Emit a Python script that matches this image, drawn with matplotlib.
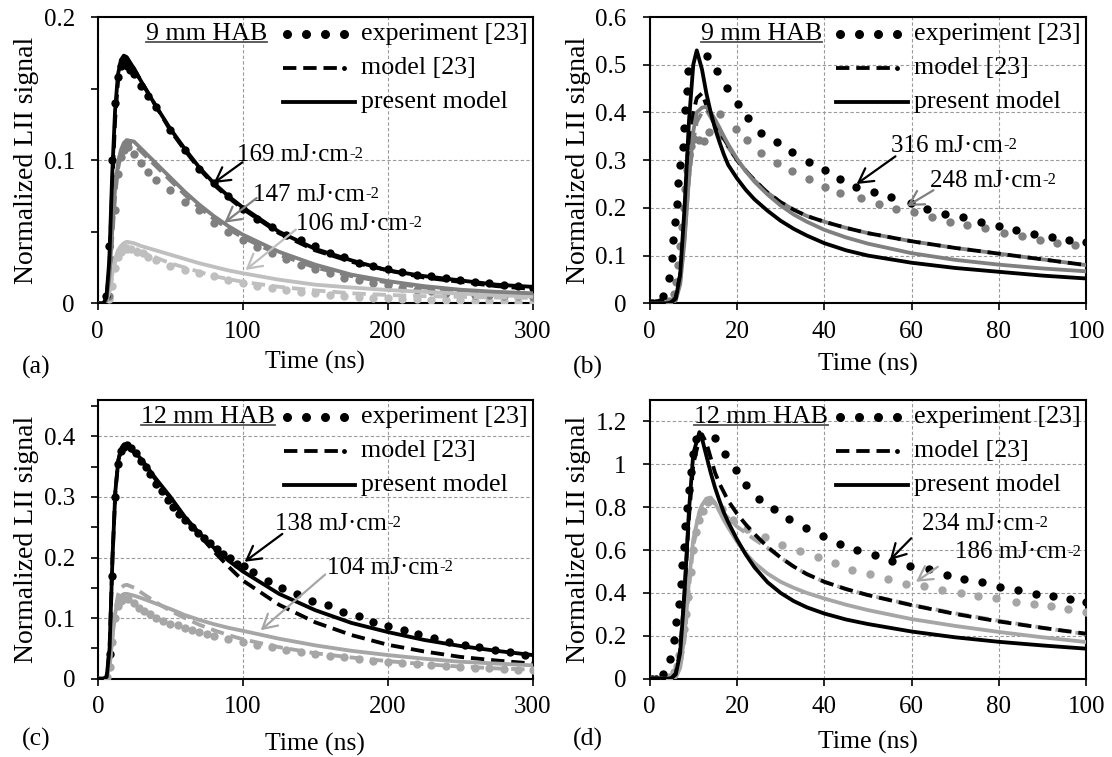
import matplotlib
matplotlib.use("Agg")
import matplotlib.pyplot as plt
from matplotlib.ticker import MultipleLocator, FuncFormatter

plt.rcParams['font.family'] = ['Liberation Serif', 'DejaVu Serif']

# ================= DATA =================
# ---- panel (a): 9 mm HAB, fluences 169 / 147 / 106 mJ/cm2 ----
a_t_line = [0, 4, 6, 8, 10, 12, 14, 16, 18, 20, 25, 30, 40, 50, 60, 70, 80, 90, 100,
            125, 150, 175, 200, 225, 250, 275, 300]
a169_present = [0, 0, 0.004, 0.03, 0.09, 0.135, 0.160, 0.170, 0.173, 0.172, 0.164, 0.155, 0.138,
                0.122, 0.108, 0.095, 0.084, 0.075, 0.067, 0.050, 0.038, 0.030, 0.023, 0.019,
                0.016, 0.013, 0.0115]
a169_model = [0, 0, 0.003, 0.025, 0.08, 0.128, 0.155, 0.166, 0.170, 0.170, 0.164, 0.155, 0.138,
              0.121, 0.107, 0.094, 0.083, 0.074, 0.066, 0.049, 0.037, 0.029, 0.023, 0.018,
              0.015, 0.012, 0.010]
a147_present = [0, 0, 0.002, 0.018, 0.05, 0.08, 0.098, 0.107, 0.112, 0.114, 0.113, 0.108, 0.098,
                0.088, 0.078, 0.069, 0.061, 0.054, 0.048, 0.036, 0.027, 0.020, 0.0155, 0.012,
                0.0095, 0.008, 0.007]
a147_model = [0, 0, 0.002, 0.015, 0.045, 0.075, 0.094, 0.104, 0.110, 0.112, 0.111, 0.106, 0.096,
              0.086, 0.076, 0.067, 0.059, 0.052, 0.046, 0.034, 0.025, 0.019, 0.0145, 0.011,
              0.009, 0.0075, 0.0065]
a106_present = [0, 0, 0.001, 0.008, 0.02, 0.031, 0.037, 0.040, 0.042, 0.043, 0.042, 0.040, 0.037,
                0.034, 0.031, 0.028, 0.0255, 0.023, 0.021, 0.0165, 0.013, 0.011, 0.0093, 0.008,
                0.0068, 0.0057, 0.0047]
a106_model = [0, 0, 0.001, 0.007, 0.018, 0.029, 0.035, 0.038, 0.040, 0.040, 0.039, 0.036, 0.032,
              0.028, 0.025, 0.022, 0.019, 0.017, 0.015, 0.0115, 0.009, 0.007, 0.0058, 0.005,
              0.0045, 0.004, 0.0038]
a169_exp_t = [6, 8, 10, 12, 14, 16, 18, 20, 22, 25, 30, 35, 40, 50, 60, 70, 80, 90, 100, 110,
              120, 130, 140, 150, 160, 170, 180, 190, 200, 210, 220, 230, 240, 250, 260, 270,
              280, 290, 300]
a169_exp = [0.005, 0.04, 0.10, 0.14, 0.158, 0.166, 0.168, 0.166, 0.163, 0.160, 0.152, 0.145,
            0.137, 0.121, 0.107, 0.094, 0.084, 0.075, 0.066, 0.059, 0.053, 0.048, 0.044, 0.040,
            0.035, 0.032, 0.028, 0.026, 0.024, 0.022, 0.020, 0.019, 0.018, 0.016, 0.015, 0.014,
            0.013, 0.012, 0.011]
a147_exp_t = [8, 10, 12, 14, 16, 18, 21, 25, 30, 35, 40, 50, 60, 70, 80, 90, 100, 110, 120, 130,
              140, 150, 160, 170, 180, 190, 200, 210, 220, 230, 240, 250, 260, 270, 280, 290, 300]
a147_exp = [0.005, 0.03, 0.065, 0.09, 0.102, 0.107, 0.109, 0.104, 0.098, 0.092, 0.086, 0.079,
            0.071, 0.065, 0.056, 0.050, 0.044, 0.039, 0.035, 0.031, 0.027, 0.024, 0.021, 0.018,
            0.016, 0.014, 0.0125, 0.011, 0.0095, 0.0085, 0.0075, 0.007, 0.006, 0.0055, 0.005,
            0.0048, 0.0045]
a106_exp_t = [8, 10, 12, 14, 16, 18, 20, 23, 27, 31, 35, 40, 50, 60, 70, 80, 90, 100, 110, 120,
              130, 140, 150, 160, 170, 180, 190, 200, 210, 220, 230, 240, 250, 260, 270, 280,
              290, 300]
a106_exp = [0.003, 0.012, 0.025, 0.032, 0.036, 0.038, 0.038, 0.038, 0.036, 0.035, 0.032, 0.030,
            0.026, 0.023, 0.021, 0.019, 0.016, 0.014, 0.012, 0.011, 0.0093, 0.008, 0.007, 0.006,
            0.0052, 0.0047, 0.004, 0.0035, 0.003, 0.0028, 0.0025, 0.0023, 0.002, 0.0018, 0.0015,
            0.0013, 0.0012, 0.001]

# ---- panel (b): 9 mm HAB, fluences 316 / 248 mJ/cm2 ----
b_t_line = [0, 2, 4, 5, 6, 7, 8, 9, 10, 10.8, 12, 13, 14, 15, 16, 17, 18, 20, 22, 24, 27, 30,
            33, 36, 40, 45, 50, 60, 70, 80, 90, 100]
b316_present = [0, 0, 0, 0.002, 0.01, 0.06, 0.2, 0.38, 0.5, 0.53, 0.49, 0.44, 0.40, 0.366, 0.338,
                0.312, 0.29, 0.262, 0.238, 0.218, 0.194, 0.173, 0.156, 0.142, 0.126, 0.111,
                0.1, 0.085, 0.074, 0.066, 0.058, 0.052]
b316_model = [0, 0, 0, 0.002, 0.012, 0.06, 0.17, 0.30, 0.40, 0.43, 0.44, 0.415, 0.395, 0.375,
              0.36, 0.345, 0.33, 0.30, 0.278, 0.258, 0.232, 0.212, 0.196, 0.183, 0.171, 0.158,
              0.147, 0.13, 0.116, 0.104, 0.092, 0.08]
b248_present = [0, 0, 0, 0.001, 0.006, 0.04, 0.13, 0.26, 0.36, 0.40, 0.41, 0.412, 0.40, 0.385,
                0.368, 0.35, 0.333, 0.303, 0.277, 0.255, 0.228, 0.205, 0.186, 0.171, 0.154,
                0.138, 0.125, 0.105, 0.091, 0.081, 0.073, 0.067]
b248_model = [0, 0, 0, 0.001, 0.008, 0.045, 0.14, 0.26, 0.34, 0.38, 0.40, 0.405, 0.39, 0.372,
              0.355, 0.34, 0.327, 0.30, 0.278, 0.258, 0.232, 0.212, 0.196, 0.183, 0.171, 0.158,
              0.147, 0.13, 0.116, 0.104, 0.092, 0.08]
b316_exp_t = [0.5, 1.5, 2.3, 3.1, 4.5, 5.1, 5.4, 5.8, 6.2, 6.6, 7.0, 7.6, 7.8, 8.2, 8.5, 8.8,
              13.2, 15.4, 17.8, 20.2, 22.6, 25.4, 29.1, 32.7, 36.4, 40.1, 43.6, 47.3, 51.4, 55.3,
              59.8, 63.6, 67.7, 71.7, 75.8, 80.0, 84.0, 88.0, 92.1, 96.1, 100]
b316_exp = [0.0, 0.0, 0.003, 0.015, 0.052, 0.094, 0.133, 0.171, 0.208, 0.252, 0.290, 0.328, 0.367,
            0.405, 0.445, 0.486, 0.518, 0.486, 0.451, 0.418, 0.388, 0.357, 0.338, 0.317, 0.296,
            0.279, 0.260, 0.244, 0.234, 0.223, 0.211, 0.197, 0.187, 0.181, 0.171, 0.163, 0.153,
            0.146, 0.138, 0.133, 0.128]
b248_exp_t = [0.5, 1.5, 4.5, 5.5, 6.0, 6.5, 7.0, 7.4, 7.8, 8.2, 8.6, 9.0, 9.5, 10.2, 11.3, 12.5,
              13.6, 16.2, 19.7, 22.3, 25.6, 29.2, 32.6, 36.4, 40.1, 43.6, 48.4, 52.5, 56.5, 60.6,
              64.6, 68.7, 72.7, 76.8, 81.2, 85.3, 89.3, 93.4, 97.4]
b248_exp = [0.0, 0.0, 0.005, 0.02, 0.045, 0.08, 0.12, 0.16, 0.2, 0.24, 0.28, 0.31, 0.33, 0.345,
            0.342, 0.34, 0.36, 0.396, 0.366, 0.342, 0.316, 0.295, 0.278, 0.26, 0.244, 0.232, 0.22,
            0.208, 0.197, 0.191, 0.18, 0.171, 0.164, 0.157, 0.1465, 0.142, 0.1326, 0.127, 0.122]

# ---- panel (c): 12 mm HAB, fluences 138 / 104 mJ/cm2 ----
c_t_line = [0, 4, 6, 8, 10, 12, 14, 16, 18, 20, 25, 30, 40, 50, 60, 70, 80, 90, 100, 125, 150,
            175, 200, 225, 250, 275, 300]
c138_present = [0, 0, 0.003, 0.05, 0.2, 0.31, 0.36, 0.38, 0.387, 0.386, 0.375, 0.362, 0.33, 0.30,
                0.267, 0.24, 0.216, 0.195, 0.177, 0.14, 0.113, 0.092, 0.077, 0.064, 0.054, 0.046,
                0.039]
c138_model = [0, 0, 0.003, 0.05, 0.2, 0.31, 0.36, 0.38, 0.386, 0.384, 0.373, 0.36, 0.328, 0.298,
              0.265, 0.237, 0.21, 0.185, 0.162, 0.122, 0.093, 0.072, 0.056, 0.045, 0.036, 0.030,
              0.025]
c104_present = [0, 0, 0.002, 0.02, 0.07, 0.11, 0.13, 0.137, 0.14, 0.14, 0.137, 0.133, 0.124,
                0.115, 0.105, 0.097, 0.09, 0.084, 0.079, 0.066, 0.055, 0.046, 0.039, 0.033,
                0.028, 0.025, 0.022]
c104_model = [0, 0, 0.002, 0.02, 0.07, 0.115, 0.14, 0.15, 0.154, 0.155, 0.15, 0.142, 0.126, 0.112,
              0.1, 0.089, 0.08, 0.072, 0.065, 0.052, 0.042, 0.035, 0.029, 0.024, 0.02, 0.017,
              0.015]
c138_exp_t = [8, 10, 12, 14, 16, 18, 20, 23, 26, 30, 33, 36, 40, 44, 48, 52, 56, 60, 65, 69, 73,
              77, 82, 86, 91, 96, 101, 107, 117, 127, 137, 148, 159, 169, 180, 190, 200, 211,
              221, 232, 242, 253, 263, 274, 284, 295]
c138_exp = [0.04, 0.17, 0.30, 0.355, 0.375, 0.383, 0.385, 0.38, 0.372, 0.36, 0.35, 0.338, 0.322,
            0.31, 0.295, 0.283, 0.272, 0.262, 0.25, 0.24, 0.232, 0.224, 0.214, 0.206, 0.2, 0.19,
            0.186, 0.176, 0.162, 0.15, 0.14, 0.129, 0.121, 0.11, 0.103, 0.093, 0.087, 0.08,
            0.074, 0.067, 0.061, 0.056, 0.052, 0.047, 0.044, 0.039]
c104_exp_t = [6, 8, 10, 12, 14, 16, 18, 21, 25, 28, 32, 36, 40, 45, 50, 55, 60, 65, 70, 75, 80,
              90, 100, 110, 120, 130, 140, 150, 160, 170, 180, 190, 200, 210, 220, 230, 240, 250,
              260, 270, 280, 290, 300]
c104_exp = [0.003, 0.02, 0.06, 0.1, 0.12, 0.128, 0.131, 0.131, 0.125, 0.116, 0.112, 0.106, 0.1,
            0.095, 0.09, 0.088, 0.084, 0.08, 0.077, 0.074, 0.071, 0.066, 0.061, 0.056, 0.052,
            0.048, 0.044, 0.041, 0.038, 0.035, 0.032, 0.03, 0.028, 0.026, 0.024, 0.022, 0.021,
            0.019, 0.018, 0.017, 0.016, 0.015, 0.014]

# ---- panel (d): 12 mm HAB, fluences 234 / 186 mJ/cm2 ----
d_t_line = [0, 2, 4, 5, 6, 7, 8, 9, 10, 11.4, 12, 13, 14, 15, 16, 17, 18, 20, 22, 24, 27, 30,
            33, 36, 40, 45, 50, 60, 70, 80, 90, 100]
d234_present = [0, 0, 0, 0.002, 0.02, 0.12, 0.4, 0.78, 1.05, 1.15, 1.12, 1.04, 0.96, 0.89, 0.83,
                0.775, 0.73, 0.65, 0.58, 0.52, 0.45, 0.40, 0.362, 0.333, 0.304, 0.276, 0.255,
                0.22, 0.193, 0.172, 0.155, 0.14]
d234_model = [0, 0, 0, 0.002, 0.025, 0.13, 0.4, 0.75, 1.0, 1.12, 1.14, 1.10, 1.03, 0.96, 0.91,
              0.87, 0.83, 0.77, 0.72, 0.675, 0.615, 0.565, 0.523, 0.488, 0.452, 0.418, 0.39,
              0.343, 0.302, 0.267, 0.237, 0.21]
d186_present = [0, 0, 0, 0, 0.008, 0.05, 0.2, 0.45, 0.65, 0.78, 0.81, 0.84, 0.845, 0.82, 0.78,
                0.74, 0.705, 0.64, 0.585, 0.54, 0.49, 0.452, 0.424, 0.4, 0.374, 0.345, 0.32,
                0.278, 0.246, 0.218, 0.193, 0.171]
d186_model = [0, 0, 0, 0, 0.008, 0.05, 0.18, 0.42, 0.62, 0.75, 0.79, 0.825, 0.83, 0.815, 0.795,
              0.77, 0.75, 0.71, 0.68, 0.65, 0.61, 0.565, 0.523, 0.488, 0.452, 0.418, 0.39,
              0.345, 0.305, 0.27, 0.238, 0.207]
d234_exp_t = [0.5, 1.5, 3.0, 4.6, 5.5, 6.1, 6.7, 7.1, 7.5, 7.9, 8.2, 8.5, 9.0, 9.4, 9.9, 10.6,
              15.0, 17.3, 19.8, 22.1, 25.0, 28.5, 32.0, 35.8, 39.7, 43.6, 47.5, 51.5, 55.4, 59.6,
              63.9, 68.0, 72.0, 76.1, 80.2, 84.3, 88.4, 92.4, 96.3, 100]
d234_exp = [0.0, 0.0, 0.023, 0.093, 0.18, 0.265, 0.35, 0.44, 0.53, 0.615, 0.71, 0.795, 0.88,
            0.966, 1.05, 1.12, 1.125, 1.05, 0.974, 0.904, 0.84, 0.79, 0.743, 0.704, 0.667, 0.626,
            0.6, 0.577, 0.55, 0.527, 0.51, 0.483, 0.467, 0.449, 0.429, 0.413, 0.397, 0.386,
            0.374, 0.358]
d186_exp_t = [0.5, 1.5, 4.5, 5.5, 6.2, 6.8, 7.3, 7.8, 8.3, 8.8, 9.4, 10.0, 10.6, 11.3, 12.2,
              13.4, 16.5, 19.1, 22.4, 26.5, 30.3, 34.4, 38.5, 42.5, 46.4, 50.5, 54.6, 58.6, 62.9,
              67.0, 71.3, 75.3, 79.4, 83.9, 88.0, 92.0, 95.7, 100]
d186_exp = [0.0, 0.0, 0.01, 0.03, 0.06, 0.11, 0.17, 0.23, 0.30, 0.38, 0.50, 0.60, 0.686, 0.74,
            0.78, 0.826, 0.79, 0.74, 0.698, 0.662, 0.623, 0.597, 0.569, 0.542, 0.506, 0.488,
            0.467, 0.444, 0.432, 0.413, 0.402, 0.385, 0.377, 0.358, 0.349, 0.34, 0.327, 0.309]

legend_labels = ['experiment [23]', 'model [23]', 'present model']
panel_hab = ['9 mm HAB', '9 mm HAB', '12 mm HAB', '12 mm HAB']
panel_tags = ['(a)', '(b)', '(c)', '(d)']
xlabel_text = 'Time (ns)'
ylabel_text = 'Normalized LII signal'

# ================= STYLE =================
BLACK = '#000000'
GRAY = '#808080'
LIGHT = '#BFBFBF'
LIGHT2 = '#A6A6A6'
LW = 2.75
DASH = (0, (3.5, 1.8))
MS = 6

W, H = 1112, 757
fig = plt.figure(figsize=(W / 100, H / 100), dpi=100)


def make_axes(l, t, r, b):
    return fig.add_axes([l / W, 1 - b / H, (r - l) / W, (b - t) / H])


def fmt(v, p):
    return '%g' % round(v, 4)


def style(ax, xmax, xmaj, ymax, ymaj, yminor, xlab_y):
    ax.set_xlim(0, xmax)
    ax.set_ylim(0, ymax)
    ax.xaxis.set_major_locator(MultipleLocator(xmaj))
    ax.yaxis.set_major_locator(MultipleLocator(ymaj))
    if yminor:
        ax.yaxis.set_minor_locator(MultipleLocator(yminor))
    ax.yaxis.set_major_formatter(FuncFormatter(fmt))
    ax.xaxis.set_major_formatter(FuncFormatter(fmt))
    ax.grid(True, which='major', color='#9a9a9a', ls=(0, (3, 2)), lw=0.8)
    ax.tick_params(which='both', direction='out', length=5, width=1.2,
                   top=False, right=False, labelsize=18)
    ax.tick_params(axis='x', pad=7.5)
    ax.tick_params(axis='y', pad=11.5)
    for s in ax.spines.values():
        s.set_linewidth(1.5)
    ax.set_xlabel(xlabel_text, fontsize=18.5)
    ax.xaxis.set_label_coords(0.5, xlab_y)
    ax.set_ylabel(ylabel_text, fontsize=20)
    ax.yaxis.set_label_coords(-0.135, 0.5)


def series(ax, te, ye, tl, ymodel, ypresent, color):
    ax.plot(te, ye, 'o', color=color, ms=MS, mec='none', zorder=3)
    ax.plot(tl, ymodel, color=color, lw=LW, ls=DASH, zorder=4)
    ax.plot(tl, ypresent, color=color, lw=LW, zorder=5)


def fluence(ax, label, xy_text, tail, tip, color):
    t = ax.text(xy_text[0], xy_text[1], label + ' mJ·cm', fontsize=18, ha='left',
                va='baseline', zorder=7)
    ax.annotate('-2', xy=(1, 1), xycoords=t, xytext=(0.5, -1.5),
                textcoords='offset points', fontsize=12, ha='left', va='top', zorder=7)
    ax.annotate('', xy=tip, xytext=tail,
                arrowprops=dict(arrowstyle='->,head_length=0.5,head_width=0.28',
                                color=color, lw=1.6, shrinkA=0, shrinkB=0,
                                mutation_scale=20), zorder=7)


hab_items = []


def legend(ax, hab, hab_right, ax_h_px):
    rows = [1 - off / ax_h_px for off in (17, 51, 85)]
    tr = ax.transAxes
    ax.plot([0.435, 0.479, 0.523, 0.567], [rows[0]] * 4, 'o', color=BLACK, ms=MS + 0.5,
            mec='none', transform=tr, clip_on=False, zorder=8)
    ax.plot([0.427, 0.553], [rows[1]] * 2, color=BLACK, lw=LW, ls=DASH, transform=tr,
            clip_on=False, zorder=8, solid_capstyle='butt', dash_capstyle='butt')
    ax.plot([0.567], [rows[1]], 'o', color=BLACK, ms=3.5, mec='none', transform=tr,
            clip_on=False, zorder=8)
    ax.plot([0.427, 0.592], [rows[2]] * 2, color=BLACK, lw=LW, transform=tr,
            clip_on=False, zorder=8)
    for y, lab in zip(rows, legend_labels):
        ax.text(0.605, y, lab, fontsize=18.7, ha='left', va='center', transform=tr, zorder=8)
    t = ax.text(hab_right, rows[0], hab, fontsize=18.7, ha='right', va='center',
                transform=tr, zorder=8)
    hab_items.append((ax, t))


# ---- (a)
axa = make_axes(97.7, 17, 532.7, 303.3)
style(axa, 300, 100, 0.2, 0.1, 0.05, -0.167)
series(axa, a106_exp_t, a106_exp, a_t_line, a106_model, a106_present, LIGHT)
series(axa, a147_exp_t, a147_exp, a_t_line, a147_model, a147_present, GRAY)
series(axa, a169_exp_t, a169_exp, a_t_line, a169_model, a169_present, BLACK)
fluence(axa, '169', (96, 0.0995), (99.8, 0.0985), (80, 0.084), BLACK)
fluence(axa, '147', (107, 0.0715), (109.6, 0.0735), (87.4, 0.0563), GRAY)
fluence(axa, '106', (136.7, 0.0515), (136.7, 0.0515), (102, 0.0233), LIGHT)
legend(axa, panel_hab[0], 0.389, 286.3)

# ---- (b)
axb = make_axes(649.6, 17, 1086.3, 303.3)
style(axb, 100, 20, 0.6, 0.1, None, -0.174)
series(axb, b248_exp_t, b248_exp, b_t_line, b248_model, b248_present, GRAY)
series(axb, b316_exp_t, b316_exp, b_t_line, b316_model, b316_present, BLACK)
fluence(axb, '316', (55.3, 0.3175), (56.3, 0.308), (47.4, 0.25), BLACK)
fluence(axb, '248', (64.2, 0.244), (65, 0.237), (59, 0.204), GRAY)
legend(axb, panel_hab[1], 0.395, 286.3)

# ---- (c)
axc = make_axes(98, 400, 532.7, 678.7)
style(axc, 300, 100, 0.46, 0.1, 0.05, -0.194)
series(axc, c104_exp_t, c104_exp, c_t_line, c104_model, c104_present, LIGHT2)
series(axc, c138_exp_t, c138_exp, c_t_line, c138_model, c138_present, BLACK)
fluence(axc, '138', (122.2, 0.245), (127.2, 0.239), (101.2, 0.193), BLACK)
fluence(axc, '104', (158, 0.173), (156.8, 0.172), (112.3, 0.08), LIGHT2)
legend(axc, panel_hab[2], 0.408, 278.7)

# ---- (d)
axd = make_axes(649.6, 400, 1086.3, 678.7)
style(axd, 100, 20, 1.3, 0.2, None, -0.188)
series(axd, d186_exp_t, d186_exp, d_t_line, d186_model, d186_present, LIGHT2)
series(axd, d234_exp_t, d234_exp, d_t_line, d234_model, d234_present, BLACK)
fluence(axd, '234', (62.3, 0.693), (59.9, 0.655), (55, 0.553), BLACK)
fluence(axd, '186', (70, 0.561), (66, 0.522), (61, 0.452), LIGHT2)
legend(axd, panel_hab[3], 0.408, 278.7)

# panel tags
for tag, (px, py) in zip(panel_tags, [(36, 367), (588, 367), (36, 739), (588, 739)]):
    fig.text(px / W, 1 - py / H, tag, fontsize=18.5, ha='center', va='center')

# underline the HAB labels
fig.canvas.draw()
rend = fig.canvas.get_renderer()
for ax, t in hab_items:
    bb = t.get_window_extent(rend)
    inv = ax.transAxes.inverted()
    (x0, y0), (x1, _) = inv.transform([(bb.x0, bb.y0 + 3), (bb.x1, bb.y0 + 3)])
    ax.plot([x0, x1], [y0, y0], color='#505050', lw=1.3, transform=ax.transAxes,
            clip_on=False, zorder=8)

fig.savefig('out.png', dpi=100)
